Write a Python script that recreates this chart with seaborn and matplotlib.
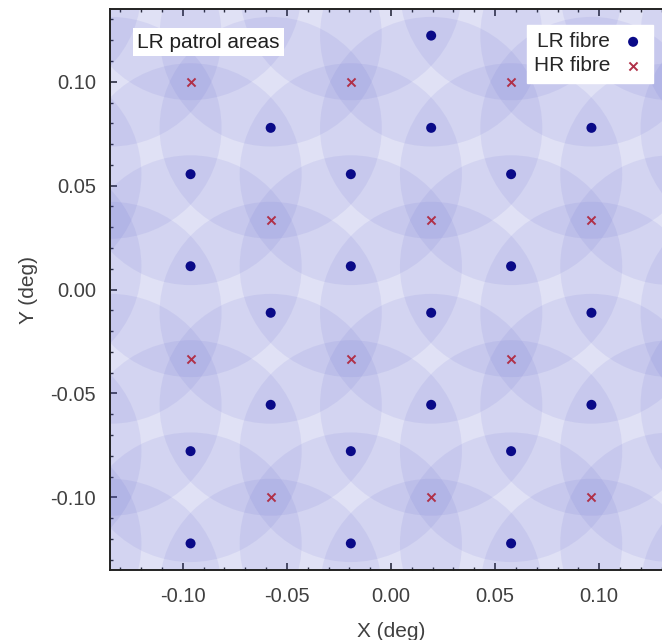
import matplotlib
matplotlib.use("Agg")
import matplotlib.pyplot as plt
from matplotlib.patches import Circle
from matplotlib.ticker import MultipleLocator
import seaborn as sns

# fibre home positions (deg)
hr_x = [-0.0963, -0.0193, 0.0577,
        -0.0578, 0.0193, 0.0963,
        -0.0963, -0.0193, 0.0577,
        -0.0578, 0.0193, 0.0963]
hr_y = [0.1000, 0.1000, 0.1000,
        0.0333, 0.0333, 0.0333,
        -0.0333, -0.0333, -0.0333,
        -0.1000, -0.1000, -0.1000]

# LR fibres inside the field shown
lr_fibres = [
    (-0.0578, 0.1222), (0.0193, 0.1222), (0.0963, 0.1222),
    (-0.0578, 0.0778), (0.0193, 0.0778), (0.0963, 0.0778),
    (-0.0963, 0.0555), (-0.0193, 0.0555), (0.0577, 0.0555), (0.1347, 0.0555),
    (-0.0963, 0.0112), (-0.0193, 0.0112), (0.0577, 0.0112), (0.1347, 0.0112),
    (-0.0578, -0.0112), (0.0193, -0.0112), (0.0963, -0.0112),
    (-0.0578, -0.0555), (0.0193, -0.0555), (0.0963, -0.0555),
    (-0.0963, -0.0778), (-0.0193, -0.0778), (0.0577, -0.0778), (0.1347, -0.0778),
    (-0.0963, -0.1222), (-0.0193, -0.1222), (0.0577, -0.1222), (0.1347, -0.1222),
]
# neighbouring LR fibres just outside the window (their patrol areas reach in)
lr_outside = [
    (-0.1733, 0.1888), (-0.1733, 0.1445), (-0.1733, 0.0555), (-0.1733, 0.0112),
    (-0.1733, -0.0778), (-0.1733, -0.1222),
    (-0.0963, 0.1888), (-0.0963, 0.1445), (-0.0193, 0.1888), (-0.0193, 0.1445),
    (0.0577, 0.1888), (0.0577, 0.1445), (0.1347, 0.1888), (0.1347, 0.1445),
    (-0.1348, 0.1222), (-0.1348, 0.0778), (-0.1348, -0.0112), (-0.1348, -0.0555),
    (-0.1348, -0.1445), (-0.1348, -0.1888),
    (-0.0578, -0.1445), (-0.0578, -0.1888), (0.0193, -0.1445), (0.0193, -0.1888),
    (0.0963, -0.1445), (0.0963, -0.1888),
    (0.1733, 0.1222), (0.1733, 0.0778), (0.1733, -0.0112), (0.1733, -0.0555),
    (0.1733, -0.1445), (0.1733, -0.1888),
]
patrol_radius = 0.0534

tick_vals = [-0.10, -0.05, 0.00, 0.05, 0.10]
tick_labels = ["-0.10", "-0.05", "0.00", "0.05", "0.10"]

sns.set_style("ticks")
plt.rcParams["font.family"] = ["Liberation Sans", "DejaVu Sans"]

fig = plt.figure(figsize=(6.62, 6.4), dpi=100)
ax = fig.add_axes([110 / 662, 70 / 640, 562 / 662, 561 / 640])

for x, y in lr_fibres + lr_outside:
    ax.add_patch(Circle((x, y), patrol_radius, facecolor="#5a5fcc", alpha=0.095,
                        linewidth=0, zorder=1))

lr_x = [p[0] for p in lr_fibres]
lr_y = [p[1] for p in lr_fibres]
sns.scatterplot(x=lr_x, y=lr_y, ax=ax, color="#0a0a88", marker="o", s=52,
                edgecolor="none", label="LR fibre", zorder=3)
sns.scatterplot(x=hr_x, y=hr_y, ax=ax, color="#b03048", marker="x", s=34,
                linewidth=1.4, label="HR fibre", zorder=3)

ax.set_xlim(-0.135, 0.135)
ax.set_ylim(-0.135, 0.135)
ax.set_xticks(tick_vals)
ax.set_xticklabels(tick_labels)
ax.set_yticks(tick_vals)
ax.set_yticklabels(tick_labels)
ax.xaxis.set_minor_locator(MultipleLocator(0.01))
ax.yaxis.set_minor_locator(MultipleLocator(0.01))
ax.tick_params(which="both", direction="in", top=True, right=True,
               color="#222222", labelcolor="#404040", labelsize=14.5)
ax.tick_params(which="major", length=5, width=1.2)
ax.tick_params(which="minor", length=2.5, width=1)
ax.tick_params(axis="x", which="major", pad=12)
ax.tick_params(axis="y", which="major", pad=10)
for sp in ax.spines.values():
    sp.set_linewidth(1.4)
    sp.set_color("#222222")

ax.set_xlabel("X (deg)", fontsize=15, color="#404040", labelpad=12)
ax.set_ylabel("Y (deg)", fontsize=15, color="#404040", labelpad=9)

leg = ax.legend(loc="upper right", bbox_to_anchor=(0.966, 0.9715), borderaxespad=0,
                markerfirst=False, frameon=True, fancybox=False, framealpha=1,
                facecolor="white", edgecolor="white", fontsize=15,
                handletextpad=0.5, handlelength=1.2, labelspacing=0.25, borderpad=0.35)
leg.set_zorder(10)

ax.text(0.048, 0.941, "LR patrol areas", transform=ax.transAxes, fontsize=15,
        color="#202020", va="center", ha="left", zorder=10,
        bbox=dict(facecolor="white", edgecolor="none", pad=3))

fig.savefig("out.png", dpi=100)
